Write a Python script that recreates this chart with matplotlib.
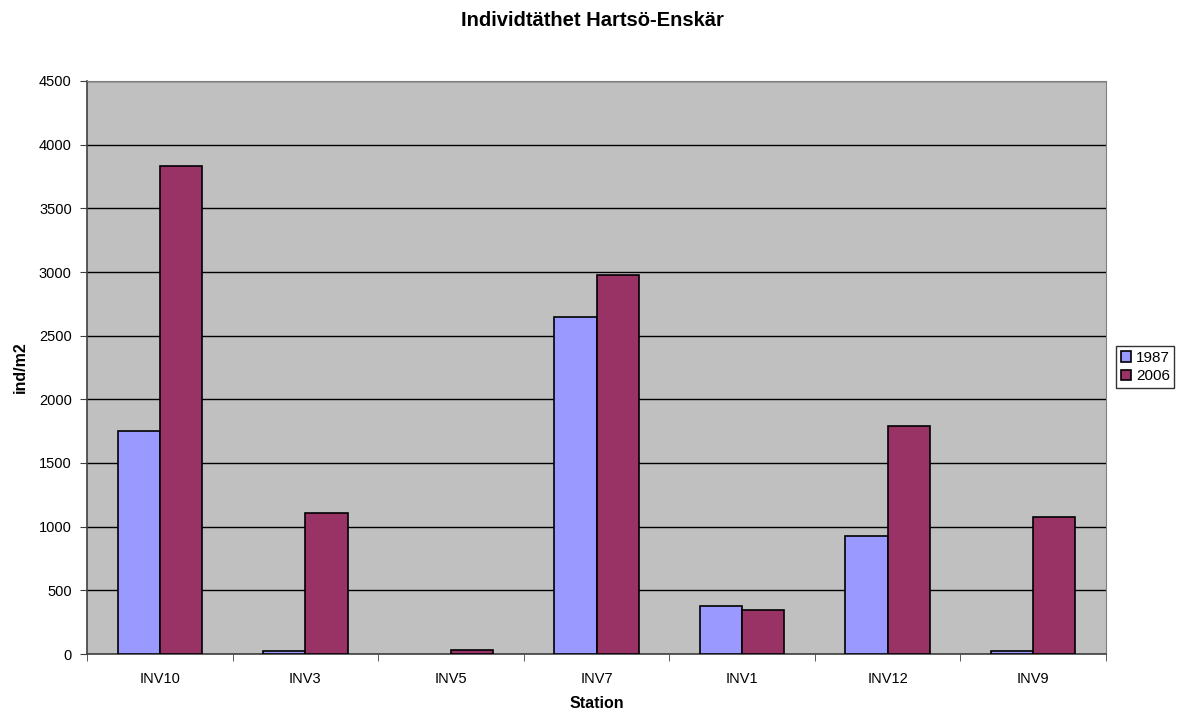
import numpy as np
import matplotlib.pyplot as plt
from matplotlib.ticker import MultipleLocator, FixedLocator

plt.rcParams['font.family'] = ['Liberation Sans', 'DejaVu Sans']

stations = ["INV10", "INV3", "INV5", "INV7", "INV1", "INV12", "INV9"]
ar_1987 = [1750, 20, 0, 2650, 375, 930, 25]
ar_2006 = [3830, 1110, 30, 2975, 345, 1790, 1075]
serier = ["1987", "2006"]
farger = ["#9999FF", "#993366"]


def rita(stations, ar_1987, ar_2006):
    fig = plt.figure(figsize=(11.84, 7.15), dpi=100)
    ax = fig.add_axes([87 / 1184, 1 - 654 / 715, (1106 - 87) / 1184, (654 - 81) / 715])
    ax.set_facecolor("#C0C0C0")

    x = np.arange(len(stations))
    bredd = 0.29
    for varden, forskj, farg, namn in [(ar_1987, -bredd / 2, farger[0], serier[0]),
                                         (ar_2006, bredd / 2, farger[1], serier[1])]:
        # nollvärden ritas inte alls (ingen kantlinje)
        kanter = [1.2 if v > 0 else 0 for v in varden]
        ax.bar(x + forskj, varden, bredd, color=farg, edgecolor="black",
               linewidth=kanter, label=namn, zorder=3)

    ax.set_xlim(-0.5, len(stations) - 0.5)
    ax.set_ylim(0, 4500)
    ax.yaxis.set_major_locator(MultipleLocator(500))
    ax.yaxis.grid(True, color="black", linewidth=1, zorder=1)
    ax.set_axisbelow(True)

    # kategorietiketter i mitten, streck mellan stationerna
    ax.set_xticks(x)
    ax.set_xticklabels(stations, fontsize=10.5)
    ax.tick_params(axis="x", which="major", length=0, pad=13)
    ax.xaxis.set_minor_locator(FixedLocator(np.arange(-0.5, len(stations), 1.0)))
    ax.tick_params(axis="x", which="minor", length=5, color="#404040", direction="out")
    ax.tick_params(axis="y", length=5, color="#404040", labelsize=10.5, pad=6)

    for s in ["top", "right"]:
        ax.spines[s].set_color("#808080")
    for s in ["left", "bottom"]:
        ax.spines[s].set_color("#404040")
        ax.spines[s].set_linewidth(1.2)

    ax.set_xlabel("Station", fontsize=11.5, fontweight="bold", labelpad=7)
    ax.set_ylabel("ind/m2", fontsize=11.5, fontweight="bold", labelpad=8)
    fig.text(0.5, 1 - 21 / 715, "Individtäthet Hartsö-Enskär", ha="center", va="center",
             fontsize=14.5, fontweight="bold")

    leg = ax.legend(loc="center left", bbox_to_anchor=(1116 / 1184, 1 - 367 / 715),
                    bbox_transform=fig.transFigure, fontsize=11, frameon=True, fancybox=False,
                    handlelength=0.7, handleheight=0.7, handletextpad=0.3,
                    borderpad=0.3, labelspacing=0.3, borderaxespad=0)
    leg.get_frame().set_edgecolor("black")
    leg.get_frame().set_linewidth(1)

    fig.savefig("out.png", dpi=100)


if __name__ == '__main__':
    rita(stations, ar_1987, ar_2006)
